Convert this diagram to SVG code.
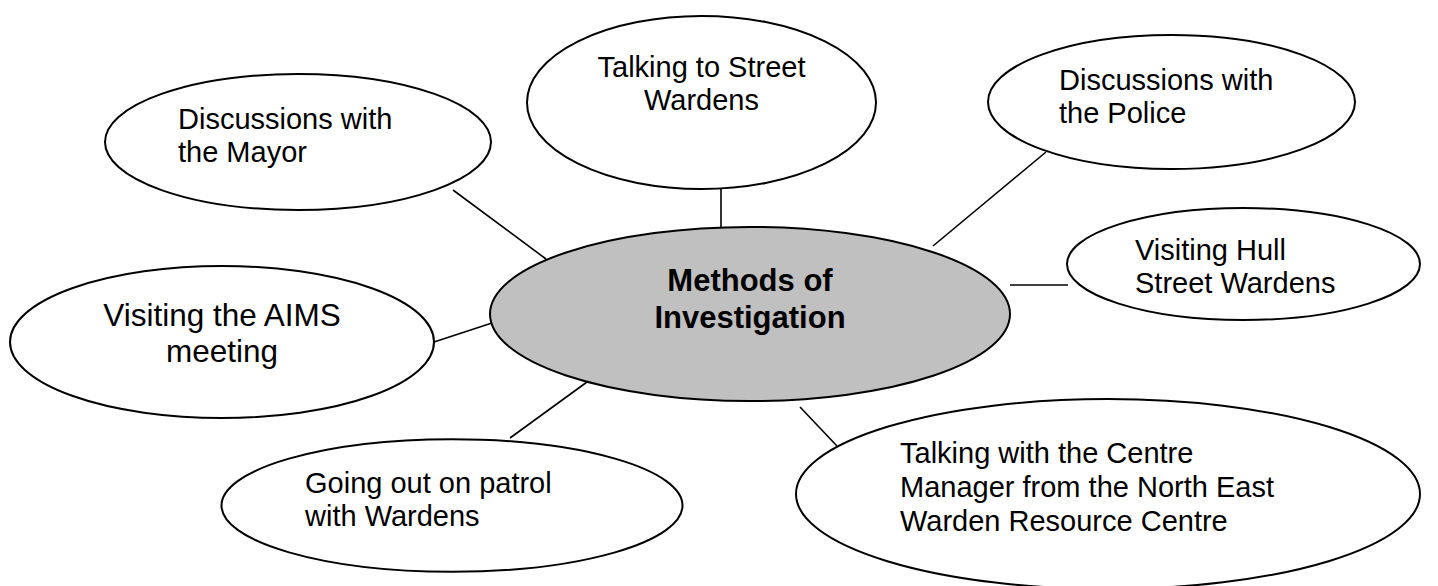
<svg xmlns="http://www.w3.org/2000/svg" width="1438" height="586" viewBox="0 0 1438 586">
<style>
.n{fill:#fff;stroke:#000;stroke-width:2}
.c{fill:#c0c0c0;stroke:#000;stroke-width:2}
.t{font-family:"Liberation Sans",Arial,sans-serif;font-size:29px;fill:#000}
.b{font-family:"Liberation Sans",Arial,sans-serif;font-size:31px;font-weight:bold;fill:#000}
.l{font-family:"Liberation Sans",Arial,sans-serif;font-size:31.5px;fill:#000}
#connectors line{stroke:#000;stroke-width:1.6}
</style>
<rect width="1438" height="586" fill="#fff"/>
<g id="connectors">
<line x1="453" y1="190" x2="546" y2="259"/>
<line x1="721" y1="189" x2="721" y2="228"/>
<line x1="1046" y1="152" x2="933" y2="246"/>
<line x1="1010" y1="285" x2="1068" y2="285"/>
<line x1="434" y1="342" x2="492" y2="323"/>
<line x1="510" y1="438" x2="587" y2="382"/>
<line x1="800" y1="407" x2="837" y2="446"/>
</g>
<g id="center">
<ellipse class="c" cx="750" cy="314" rx="260" ry="87"/>
<text class="b" text-anchor="middle"><tspan x="750" y="291">Methods of</tspan><tspan x="750" y="328">Investigation</tspan></text>
</g>
<g id="street">
<ellipse class="n" cx="701.5" cy="102.5" rx="174.5" ry="86.5"/>
<text class="t" text-anchor="middle"><tspan x="701.5" y="77">Talking to Street</tspan><tspan x="701.5" y="110">Wardens</tspan></text>
</g>
<g id="mayor">
<ellipse class="n" cx="298" cy="142" rx="193" ry="68"/>
<text class="t"><tspan x="178" y="129">Discussions with</tspan><tspan x="178" y="162">the Mayor</tspan></text>
</g>
<g id="police">
<ellipse class="n" cx="1171.5" cy="102" rx="183.5" ry="67"/>
<text class="t"><tspan x="1059" y="90">Discussions with</tspan><tspan x="1059" y="123">the Police</tspan></text>
</g>
<g id="hull">
<ellipse class="n" cx="1243.5" cy="264" rx="176.5" ry="56"/>
<text class="t"><tspan x="1135" y="260">Visiting Hull</tspan><tspan x="1135" y="293">Street Wardens</tspan></text>
</g>
<g id="aims">
<ellipse class="n" cx="222" cy="342" rx="212" ry="76"/>
<text class="l" text-anchor="middle"><tspan x="222" y="326">Visiting the AIMS</tspan><tspan x="222" y="362">meeting</tspan></text>
</g>
<g id="patrol">
<ellipse class="n" cx="452" cy="505.5" rx="230.5" ry="66.3"/>
<text class="t"><tspan x="305" y="493">Going out on patrol</tspan><tspan x="305" y="526">with Wardens</tspan></text>
</g>
<g id="centre">
<ellipse class="n" cx="1108" cy="494" rx="312" ry="95"/>
<text class="t"><tspan x="900" y="463">Talking with the Centre</tspan><tspan x="900" y="497">Manager from the North East</tspan><tspan x="900" y="531">Warden Resource Centre</tspan></text>
</g>
</svg>
